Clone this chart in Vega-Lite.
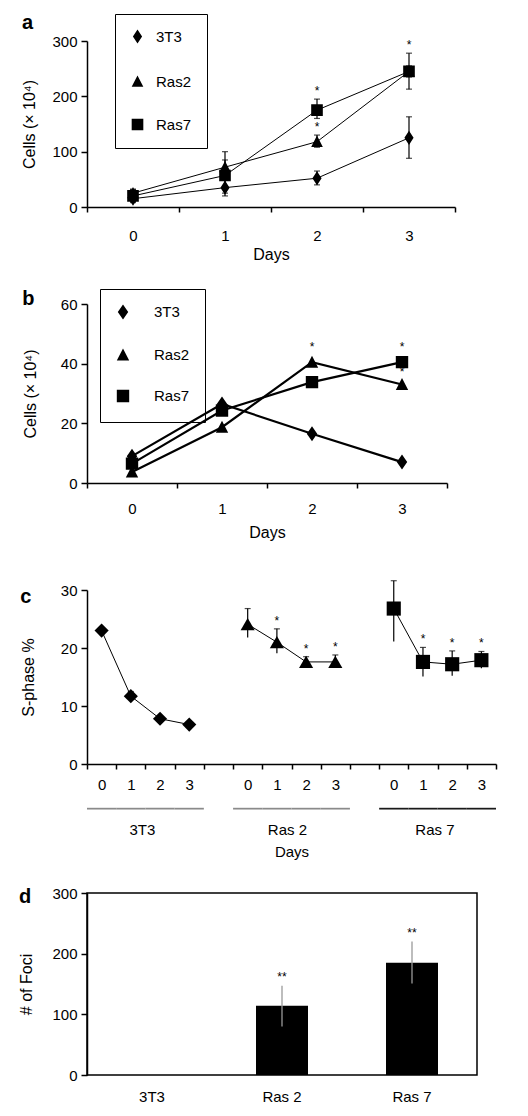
{
"$schema":"https://vega.github.io/schema/vega-lite/v6.json",
"padding":{"left":18,"top":12,"right":5,"bottom":5},
"spacing":26,
"config":{
  "font":"Liberation Sans",
  "view":{"stroke":null},
  "axis":{"domainColor":"black","domainWidth":1.5,"tickColor":"black","tickWidth":1.5,"tickSize":5,"labelFontSize":15,"labelColor":"black","titleFontSize":16,"titleFontWeight":"normal","titleColor":"black","grid":false,"labelFont":"Liberation Sans","titleFont":"Liberation Sans","labelOverlap":false},
  "title":{"fontSize":20,"fontWeight":"bold","color":"black","anchor":"start","frame":"bounds","font":"Liberation Sans"},
  "legend":{"labelFontSize":15,"labelColor":"black","labelFont":"Liberation Sans"}
},
"resolve":{"scale":{"x":"independent","y":"independent","shape":"independent","color":"independent"},"legend":{"shape":"independent","color":"independent"}},
"vconcat":[
{
  "title":{"text":"a","dy":23},
  "width":368,"height":166,
  "data":{"values":[
    {"line":"3T3","day":"0","v":15,"lo":8,"hi":22,"sig":""},
    {"line":"3T3","day":"1","v":35,"lo":20,"hi":50,"sig":""},
    {"line":"3T3","day":"2","v":52,"lo":40,"hi":65,"sig":""},
    {"line":"3T3","day":"3","v":125,"lo":88,"hi":163,"sig":""},
    {"line":"Ras2","day":"0","v":25,"lo":18,"hi":32,"sig":""},
    {"line":"Ras2","day":"1","v":72,"lo":60,"hi":85,"sig":""},
    {"line":"Ras2","day":"2","v":118,"lo":108,"hi":130,"sig":"*"},
    {"line":"Ras2","day":"3","v":245,"lo":235,"hi":255,"sig":""},
    {"line":"Ras7","day":"0","v":20,"lo":10,"hi":32,"sig":""},
    {"line":"Ras7","day":"1","v":57,"lo":25,"hi":100,"sig":""},
    {"line":"Ras7","day":"2","v":175,"lo":160,"hi":195,"sig":"*"},
    {"line":"Ras7","day":"3","v":245,"lo":213,"hi":278,"sig":"*"}
  ]},
  "encoding":{
    "x":{"field":"day","type":"ordinal","scale":{"type":"band","paddingInner":0,"paddingOuter":0},"axis":{"title":"Days","labelAngle":0,"tickBand":"extent","labelPadding":16,"titlePadding":3}}
  },
  "layer":[
    {"mark":{"type":"line","color":"black","strokeWidth":1},
     "encoding":{"y":{"field":"v","type":"quantitative","title":"Cells (× 10⁴)","scale":{"domain":[0,300],"nice":false},"axis":{"values":[0,100,200,300],"tickSize":6,"labelPadding":4,"titlePadding":14}},"detail":{"field":"line"}}},
    {"mark":{"type":"rule","color":"black","strokeWidth":1.2},
     "encoding":{"y":{"field":"lo","type":"quantitative","title":"Cells (× 10⁴)"},"y2":{"field":"hi"}}},
    {"mark":{"type":"tick","color":"black","thickness":1.2,"size":6},
     "encoding":{"y":{"field":"hi","type":"quantitative","title":"Cells (× 10⁴)"}}},
    {"mark":{"type":"tick","color":"black","thickness":1.2,"size":6},
     "encoding":{"y":{"field":"lo","type":"quantitative","title":"Cells (× 10⁴)"}}},
    {"mark":{"type":"point","filled":true,"opacity":1,"color":"black","size":150},
     "encoding":{"y":{"field":"v","type":"quantitative","title":"Cells (× 10⁴)"},
       "shape":{"field":"line","type":"nominal","scale":{"domain":["3T3","Ras2","Ras7"],"range":["M-1.9,0L1.9,0M0,-1.15L0.75,0L0,1.15L-0.75,0Z","M-1.9,0.3L1.9,0.3M0,-1L0.95,0.85L-0.95,0.85Z","M-1.9,0L1.9,0M-0.95,-0.95L0.95,-0.95L0.95,0.95L-0.95,0.95Z"]},
         "legend":{"title":null,"orient":"none","legendX":28,"legendY":-27,"strokeColor":"black","padding":15,"rowPadding":26,"symbolSize":150,"labelOffset":11,"labelFontSize":15,"symbolStrokeColor":"black","symbolStrokeWidth":1.2,"symbolFillColor":"black","symbolOpacity":1,
           "encode":{"symbols":{"stroke":{"value":"black"},"strokeWidth":{"value":1.2},"fill":{"value":"black"}}}}}}},
    {"mark":{"type":"text","baseline":"bottom","dy":-1,"fontSize":12,"color":"black"},
     "encoding":{"y":{"field":"hi","type":"quantitative","title":"Cells (× 10⁴)"},"text":{"field":"sig"}}}
  ]
},
{
  "title":{"text":"b","dy":24},
  "width":360,"height":179,
  "data":{"values":[
    {"line":"3T3","day":"0","v":9,"lo":8,"hi":10,"sig":""},
    {"line":"3T3","day":"1","v":26.5,"lo":25.5,"hi":27.5,"sig":""},
    {"line":"3T3","day":"2","v":16.5,"lo":15.5,"hi":17.5,"sig":""},
    {"line":"3T3","day":"3","v":7,"lo":6,"hi":8,"sig":""},
    {"line":"Ras2","day":"0","v":3.7,"lo":3,"hi":4.5,"sig":""},
    {"line":"Ras2","day":"1","v":18.7,"lo":17.5,"hi":20,"sig":""},
    {"line":"Ras2","day":"2","v":40.5,"lo":38,"hi":43,"sig":"*"},
    {"line":"Ras2","day":"3","v":33,"lo":31.5,"hi":34.5,"sig":"*"},
    {"line":"Ras7","day":"0","v":6.5,"lo":5.5,"hi":7.5,"sig":""},
    {"line":"Ras7","day":"1","v":24.3,"lo":23,"hi":25.5,"sig":""},
    {"line":"Ras7","day":"2","v":33.8,"lo":32.5,"hi":35,"sig":""},
    {"line":"Ras7","day":"3","v":40.5,"lo":38,"hi":43,"sig":"*"}
  ]},
  "encoding":{
    "x":{"field":"day","type":"ordinal","scale":{"type":"band","paddingInner":0,"paddingOuter":0},"axis":{"title":"Days","labelAngle":0,"tickBand":"extent","labelPadding":13,"titlePadding":8}}
  },
  "layer":[
    {"mark":{"type":"line","color":"black","strokeWidth":2.2},
     "encoding":{"y":{"field":"v","type":"quantitative","title":"Cells (× 10⁴)","scale":{"domain":[0,60],"nice":false},"axis":{"values":[0,10,20,30,40,50,60],"tickSize":6,"labelPadding":4,"titlePadding":22}},"detail":{"field":"line"}}},
    {"mark":{"type":"point","filled":true,"opacity":1,"color":"black","size":170},
     "encoding":{"y":{"field":"v","type":"quantitative","title":"Cells (× 10⁴)"},
       "shape":{"field":"line","type":"nominal","scale":{"domain":["3T3","Ras2","Ras7"],"range":["M-2.2,0L2.2,0M0,-1.15L0.8,0L0,1.15L-0.8,0Z","M-2.2,0.3L2.2,0.3M0,-1L0.95,0.85L-0.95,0.85Z","M-2.2,0L2.2,0M-0.95,-0.95L0.95,-0.95L0.95,0.95L-0.95,0.95Z"]},
         "legend":{"title":null,"orient":"none","legendX":13,"legendY":-15,"strokeColor":"black","padding":15,"rowPadding":20,"symbolSize":170,"labelOffset":23,"labelFontSize":15,"symbolStrokeColor":"black","symbolStrokeWidth":2.2,"symbolFillColor":"black","symbolOpacity":1,
           "encode":{"symbols":{"stroke":{"value":"black"},"strokeWidth":{"value":2.2},"fill":{"value":"black"}}}}}}},
    {"mark":{"type":"text","baseline":"bottom","dy":-1,"fontSize":12,"color":"black"},
     "encoding":{"y":{"field":"hi","type":"quantitative","title":"Cells (× 10⁴)"},"text":{"field":"sig"}}}
  ]
},
{
  "title":{"text":"c","dy":44},
  "width":409,"height":174,
  "data":{"values":[
    {"g":"3T3","slot":"3T3 0","v":23,"lo":22.5,"hi":23.5,"sig":""},
    {"g":"3T3","slot":"3T3 1","v":11.7,"lo":10.9,"hi":12.5,"sig":""},
    {"g":"3T3","slot":"3T3 2","v":7.8,"lo":7.3,"hi":8.3,"sig":""},
    {"g":"3T3","slot":"3T3 3","v":6.8,"lo":6.5,"hi":7.1,"sig":""},
    {"g":"Ras 2","slot":"Ras2 0","v":24.1,"lo":21.8,"hi":26.8,"sig":""},
    {"g":"Ras 2","slot":"Ras2 1","v":21,"lo":19.1,"hi":23.3,"sig":"*"},
    {"g":"Ras 2","slot":"Ras2 2","v":17.6,"lo":17,"hi":18.5,"sig":"*"},
    {"g":"Ras 2","slot":"Ras2 3","v":17.6,"lo":17,"hi":18.8,"sig":"*"},
    {"g":"Ras 7","slot":"Ras7 0","v":26.8,"lo":21.1,"hi":31.6,"sig":""},
    {"g":"Ras 7","slot":"Ras7 1","v":17.6,"lo":15.1,"hi":20.1,"sig":"*"},
    {"g":"Ras 7","slot":"Ras7 2","v":17.2,"lo":15.2,"hi":19.5,"sig":"*"},
    {"g":"Ras 7","slot":"Ras7 3","v":17.9,"lo":16.5,"hi":19.4,"sig":"*"}
  ]},
  "encoding":{
    "x":{"field":"slot","type":"ordinal","scale":{"type":"band","domain":["3T3 0","3T3 1","3T3 2","3T3 3","g1 ","Ras2 0","Ras2 1","Ras2 2","Ras2 3","g2 ","Ras7 0","Ras7 1","Ras7 2","Ras7 3"],"paddingInner":0,"paddingOuter":0},
      "axis":{"title":["\u00a0\u00a0\u00a0\u00a03T3\u00a0\u00a0\u00a0\u00a0\u00a0\u00a0\u00a0\u00a0\u00a0\u00a0\u00a0\u00a0\u00a0\u00a0\u00a0\u00a0\u00a0\u00a0\u00a0\u00a0\u00a0\u00a0\u00a0\u00a0\u00a0\u00a0\u00a0Ras 2\u00a0\u00a0\u00a0\u00a0\u00a0\u00a0\u00a0\u00a0\u00a0\u00a0\u00a0\u00a0\u00a0\u00a0\u00a0\u00a0\u00a0\u00a0\u00a0\u00a0\u00a0\u00a0\u00a0\u00a0\u00a0\u00a0Ras 7","Days"],"titleFontSize":15,"titleLineHeight":22,"labelAngle":0,"tickBand":"extent","labelPadding":8,"titlePadding":30,"labelExpr":"datum.label ? slice(datum.label, -1) : ''"}}
  },
  "layer":[
    {"mark":{"type":"bar"},
     "encoding":{"y":{"datum":-7.55,"type":"quantitative","title":"S-phase %","scale":{"domain":[0,30],"nice":false}},"y2":{"datum":-7.85},
       "color":{"field":"g","type":"nominal","scale":{"domain":["3T3","Ras 2","Ras 7"],"range":["#8a8a8a","#8a8a8a","#1a1a1a"]},"legend":null}}},
    {"mark":{"type":"line","color":"black","strokeWidth":1},
     "encoding":{"y":{"field":"v","type":"quantitative","title":"S-phase %","scale":{"domain":[0,30],"nice":false},"axis":{"values":[0,10,20,30],"tickSize":6,"labelPadding":4,"titlePadding":24}},"detail":{"field":"g"}}},
    {"mark":{"type":"rule","color":"black","strokeWidth":1.2},
     "encoding":{"y":{"field":"lo","type":"quantitative","title":"S-phase %"},"y2":{"field":"hi"}}},
    {"mark":{"type":"tick","color":"black","thickness":1.2,"size":6},
     "encoding":{"y":{"field":"hi","type":"quantitative","title":"S-phase %"}}},
    {"mark":{"type":"point","filled":true,"opacity":1,"color":"black","size":200},
     "encoding":{"y":{"field":"v","type":"quantitative","title":"S-phase %"},
       "shape":{"field":"g","type":"nominal","scale":{"domain":["3T3","Ras 2","Ras 7"],"range":["diamond","triangle-up","square"]},"legend":null}}},
    {"mark":{"type":"text","baseline":"bottom","dy":-1,"fontSize":12,"color":"black"},
     "encoding":{"y":{"field":"hi","type":"quantitative","title":"S-phase %"},"text":{"field":"sig"}}}
  ]
},
{
  "title":{"text":"d","dy":25},
  "width":390,"height":182,
  "view":{"stroke":"black","strokeWidth":1.5},
  "data":{"values":[
    {"grp":"3T3","v":0,"lo":0,"hi":0,"sig":""},
    {"grp":"Ras 2","v":114,"lo":80,"hi":147,"sig":"**"},
    {"grp":"Ras 7","v":185,"lo":151,"hi":220,"sig":"**"}
  ]},
  "encoding":{"x":{"field":"grp","type":"nominal","scale":{"paddingInner":0.6,"paddingOuter":0.3},"axis":{"title":null,"labelAngle":0,"ticks":false,"domain":false,"labelPadding":14}}},
  "layer":[
    {"mark":{"type":"bar","color":"black"},
     "encoding":{"y":{"field":"v","type":"quantitative","title":"# of Foci","scale":{"domain":[0,300],"nice":false},"axis":{"values":[0,100,200,300],"tickSize":6,"labelPadding":4,"titlePadding":17}}}},
    {"mark":{"type":"rule","color":"#9a9a9a","strokeWidth":1.3},
     "encoding":{"y":{"field":"lo","type":"quantitative","title":"# of Foci"},"y2":{"field":"hi"}}},
    {"mark":{"type":"text","baseline":"bottom","dy":-2,"fontSize":12,"color":"black"},
     "encoding":{"y":{"field":"hi","type":"quantitative","title":"# of Foci"},"text":{"field":"sig"}}}
  ]
}
]
}
